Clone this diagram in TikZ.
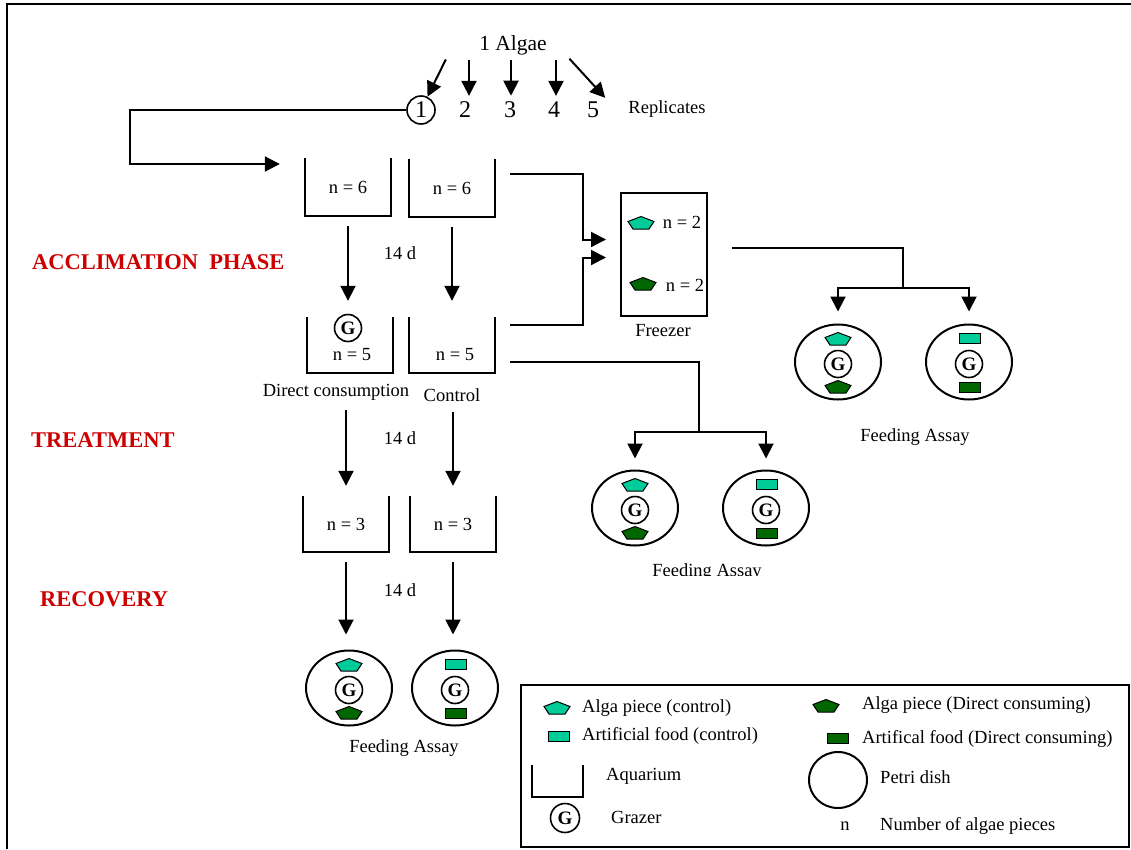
\documentclass[tikz,border=0pt]{standalone}
\usepackage{fontspec}
\setmainfont{Liberation Serif}
\usetikzlibrary{arrows.meta,calc,shapes.geometric}
\definecolor{lightalga}{RGB}{0,204,153}
\definecolor{darkalga}{RGB}{0,102,0}
\definecolor{phasered}{RGB}{204,0,0}
\tikzset{
  pics/alga/.style={code={\draw[line width=1pt, fill=#1] (0,-6.5) -- (13,-1.5) -- (8,6) -- (-8,6) -- (-13,-1.5) -- cycle;}},
}
\newcommand{\petriAlga}[2]{%
  \node[dish] (#1) at (#2) {};
  \node[grazer] (#1g) at ($(#1.center)+(0,2)$) {G};
  \pic at ($(#1.center)+(0,-23)$) {alga=lightalga};
  \pic at ($(#1.center)+(0,25)$) {alga=darkalga};
}
\newcommand{\petriFood}[2]{%
  \node[dish] (#1) at (#2) {};
  \node[grazer] (#1g) at ($(#1.center)+(0,2)$) {G};
  \node[food, fill=lightalga] (#1a) at ($(#1.center)+(1,-24)$) {};
  \node[food, fill=darkalga] (#1b) at ($(#1.center)+(1,25)$) {};
}
\begin{document}
\begin{tikzpicture}[x=1pt,y=-1pt,
  conn/.style={line width=2pt},
  arr/.style={line width=2pt, -{Triangle[length=15pt,width=15pt]}},
  txt/.style={font=\fontsize{18.5}{20}\selectfont, inner sep=0pt},
  big/.style={font=\fontsize{21.5}{24}\selectfont, inner sep=0pt},
  digit/.style={font=\fontsize{24}{26}\selectfont, inner sep=0pt},
  phase/.style={font=\fontsize{22.5}{24}\selectfont\bfseries, text=phasered, anchor=west, inner sep=0pt},
  aq/.style={txt, minimum width=86pt, minimum height=58pt,
    append after command={\pgfextra{\draw[line width=2pt] (\tikzlastnode.north west) -- (\tikzlastnode.south west) -- (\tikzlastnode.south east) -- (\tikzlastnode.north east);}}},
  dish/.style={ellipse, draw, line width=2pt, minimum width=86pt, minimum height=75pt, inner sep=0pt},
  grazer/.style={circle, draw, line width=1.6pt, minimum size=27pt, inner sep=0pt, font=\fontsize{19}{20}\selectfont\bfseries},
  food/.style={draw, line width=1pt, minimum width=21pt, minimum height=10pt, inner sep=0pt},
]
\useasboundingbox (0,0) rectangle (1131,849);
% outer frame
\draw[line width=2.4pt] (7,849) -- (7,4) -- (1131,4);

% algae and replicates
\node[big] (alg) at (513,45) {1 Algae};
\node[digit, circle, draw, line width=1.6pt, minimum size=28pt] (r1) at (421,110) {1};
\node[digit] (r2) at (465,110) {2};
\node[digit] (r3) at (510,110) {3};
\node[digit] (r4) at (554,110) {4};
\node[digit] (r5) at (593,110) {5};
\node[txt] (rep) at (667,109) {Replicates};
\draw[arr, shorten <=5pt] ($(alg.south)+(-65,0)$) -- (r1);
\draw[arr, shorten <=5pt, shorten >=6pt] ($(alg.south -| r2.north)+(4,0)$) -- ($(r2.north)+(4,0)$);
\draw[arr, shorten <=5pt, shorten >=6pt] ($(alg.south -| r3.north)+(1,0)$) -- ($(r3.north)+(1,0)$);
\draw[arr, shorten <=5pt, shorten >=6pt] ($(alg.south -| r4.north)+(2,0)$) -- ($(r4.north)+(2,0)$);
\draw[arr, shorten <=5pt] ($(alg.south)+(53,0)$) -- ($(r5.north east)+(6,-4)$);

% phase labels
\node[phase] (ph1) at (32,262) {ACCLIMATION\ \ PHASE};
\node[phase] (ph2) at (31,440) {TREATMENT};
\node[phase] (ph3) at (40,599) {RECOVERY};

% aquaria
\node[aq] (a1) at (348,187) {n = 6};
\node[aq] (b1) at (452,188) {n = 6};
\node[aq, minimum height=56pt] (a2) at (350,345) {};
\node[aq, minimum height=56pt] (b2) at (452,345) {};
\node[grazer] (a2g) at (348,328) {G};
\node[txt] (a2n) at (352,355) {n = 5};
\node[txt] (b2n) at (455,355) {n = 5};
\node[txt] (dcl) at (336,392) {Direct consumption};
\node[txt] (ctl) at (452,395) {Control};
\node[aq, minimum width=85pt, minimum height=56pt] (a3) at (346,524) {n = 3};
\node[aq, minimum width=85pt, minimum height=56pt] (b3) at (453,524) {n = 3};

\node[txt] (d1) at (400,253) {14 d};
\node[txt] (d2) at (400,438) {14 d};
\node[txt] (d3) at (400,590) {14 d};

% loop from replicate 1
\coordinate (c1) at (130,164);
\draw[arr] (r1.west) -| (c1) -- ($(a1.west |- c1)+(-25,0)$);

% vertical flow
\draw[arr, shorten <=10pt, shorten >=16pt] (a1.south) -- (a1.south |- a2.north);
\draw[arr, shorten <=10pt, shorten >=16pt] (b1.south) -- (b1.south |- b2.north);
\draw[arr, shorten <=10pt, shorten >=10pt] (a3.north |- dcl.south) -- (a3.north);
\draw[arr, shorten <=10pt, shorten >=10pt] (b3.north |- ctl.south) -- (b3.north);

% recovery dishes
\petriAlga{dA}{349,688}
\petriFood{dB}{455,688}
\node[txt] (fa1) at (404,748) {Feeding Assay};
\draw[arr, shorten <=10pt, shorten >=15pt] (a3.south) -- (a3.south |- dA.north);
\draw[arr, shorten <=10pt, shorten >=15pt] (b3.south) -- (b3.south |- dB.north);

% freezer
\node[draw, line width=2pt, minimum width=86pt, minimum height=123pt, inner sep=0pt] (fz) at (664,254.5) {};
\pic at (641,223) {alga=lightalga};
\node[txt] (fzn1) at (682,222) {n = 2};
\pic at (643,284) {alga=darkalga};
\node[txt] (fzn2) at (685,285) {n = 2};
\node[txt] (fzl) at (663,331) {Freezer};
\draw[arr] ($(b1.north east)+(15,15)$) -- ++(73,0) |- ($(fz.west)+(-14,-15)$);
\draw[arr] ($(b2.north east)+(15,8)$) -- ++(73,0) |- ($(fz.west)+(-14,3)$);

% freezer feeding assay
\coordinate (s1) at (903,288);
\draw[conn] ($(fz.east)+(24,-7)$) -| (s1);
\petriAlga{dF1}{838,362}
\petriFood{dF2}{969,362}
\draw[arr, shorten >=12pt] (s1) -| (dF1.north);
\draw[arr, shorten >=12pt] (s1) -| (dF2.north);
\node[txt] (fa2) at (915,437) {Feeding Assay};

% treatment feeding assay
\coordinate (s2) at (699,432);
\draw[conn] ($(b2.east)+(15,17)$) -| (s2);
\petriAlga{dT1}{635,508}
\petriFood{dT2}{766,508}
\draw[arr, shorten >=11pt] (s2) -| (dT1.north);
\draw[arr, shorten >=11pt] (s2) -| (dT2.north);
\begin{scope}
\clip (600,550) rectangle (820,575.5);
\node[txt, anchor=base] (fa3) at (707,576) {Feeding Assay};
\end{scope}

% legend
\draw[line width=1.6pt] (521,685) rectangle (1129,847);
\pic at (557,708) {alga=lightalga};
\node[txt, anchor=west] (l1) at (582,708) {Alga piece (control)};
\pic at (826,706) {alga=darkalga};
\node[txt, anchor=west] (l2) at (862,705) {Alga piece (Direct consuming)};
\node[food, fill=lightalga] (lf1) at (559,736) {};
\node[txt, anchor=west] (l3) at (582,736) {Artificial food (control)};
\node[food, fill=darkalga] (lf2) at (838,738) {};
\node[txt, anchor=west] (l4) at (862,739) {Artifical food (Direct consuming)};
\node[aq, minimum width=51pt, minimum height=32pt] (laq) at (557.5,781) {};
\node[txt, anchor=west] (l5) at (606,776) {Aquarium};
\node[dish, minimum width=58pt, minimum height=56pt] (lpd) at (838,780) {};
\node[txt, anchor=west] (l6) at (880,777) {Petri dish};
\node[grazer, minimum size=29pt] (lg) at (565,818) {G};
\node[txt, anchor=west] (l7) at (611,817) {Grazer};
\node[txt] (ln) at (845,826) {n};
\node[txt, anchor=west] (l8) at (880,826) {Number of algae pieces};
\end{tikzpicture}
\end{document}
